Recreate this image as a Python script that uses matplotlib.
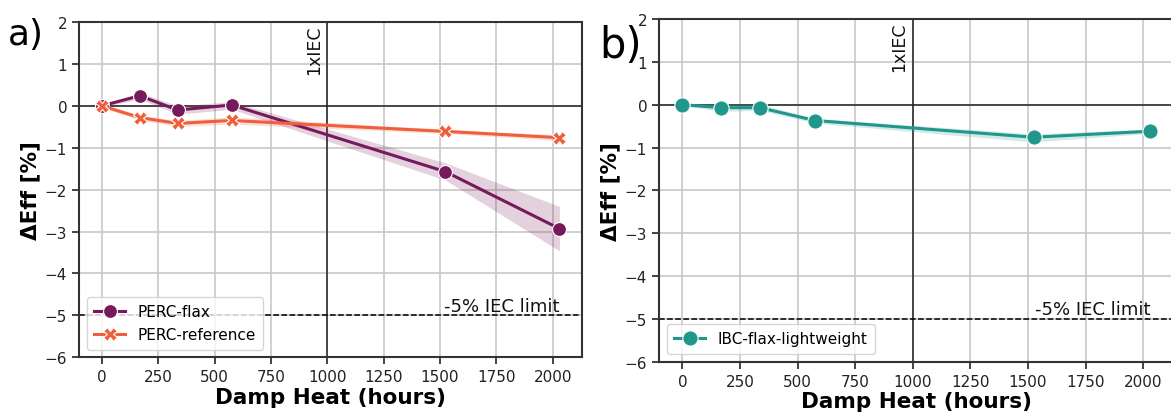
import matplotlib.pyplot as plt
import numpy as np

# damp heat exposure times (hours)
hours = [0, 168, 336, 576, 1524, 2030]

# PERC-flax: mean change in efficiency and spread band
flax_mean = [0.0, 0.24, -0.10, 0.02, -1.57, -2.93]
flax_lo = [-0.03, 0.16, -0.20, -0.08, -1.77, -3.46]
flax_hi = [0.03, 0.31, 0.00, 0.10, -1.36, -2.40]

# PERC-reference
ref_mean = [0.0, -0.28, -0.42, -0.35, -0.61, -0.76]
ref_lo = [-0.04, -0.34, -0.49, -0.44, -0.66, -0.83]
ref_hi = [0.04, -0.22, -0.35, -0.26, -0.56, -0.69]

# IBC-flax-lightweight
ibc_mean = [0.0, -0.07, -0.07, -0.37, -0.76, -0.62]
ibc_lo = [-0.02, -0.16, -0.13, -0.43, -0.87, -0.67]
ibc_hi = [0.02, 0.03, 0.01, -0.32, -0.68, -0.57]

iec_hours = 1000
iec_limit = -5

c_flax = '#761a5c'
c_ref = '#f05f3c'
c_ibc = '#1f978b'

fig = plt.figure(figsize=(11.71, 4.14), dpi=100)
W, H = 1171, 414
ax1 = fig.add_axes([79/W, (H-358.3)/H, (582.3-79)/W, (358.3-23)/H])
ax2 = fig.add_axes([659/W, (H-362.7)/H, (1173.5-659)/W, (362.7-20)/H])


def style(ax):
    ax.set_xlim(-101.5, 2131.5)
    ax.set_ylim(-6, 2)
    ax.set_xticks(np.arange(0, 2001, 250))
    ax.set_yticks(np.arange(-6, 3, 1))
    ax.grid(True, color='#c8c8c8', linewidth=1.2, zorder=0)
    ax.set_axisbelow(True)
    ax.tick_params(labelsize=11, length=5, width=1.2, colors='#222222')
    for s in ax.spines.values():
        s.set_linewidth(1.5)
        s.set_color('#333333')
    ax.axhline(0, color='#222222', lw=1.1, zorder=1)
    ax.axvline(iec_hours, color='#222222', lw=1.1, zorder=1)
    ax.axhline(iec_limit, color='black', lw=1.1, ls='--', zorder=1)
    ax.text(iec_hours - 20, 1.95, '1xIEC', rotation=90, ha='right', va='top',
            fontsize=12.5, color='#111111')
    ax.text(2030, iec_limit + 0.02, '-5% IEC limit', ha='right', va='bottom',
            fontsize=13, color='#111111')
    ax.set_xlabel('Damp Heat (hours)', fontsize=15.5, fontweight='bold', labelpad=2)
    ax.set_ylabel('ΔEff [%]', fontsize=15.5, fontweight='bold', labelpad=3)


style(ax1)
ax1.fill_between(hours, flax_lo, flax_hi, color=c_flax, alpha=0.2, lw=0, zorder=2)
ax1.fill_between(hours, ref_lo, ref_hi, color=c_ref, alpha=0.2, lw=0, zorder=2)
ax1.plot(hours, flax_mean, color=c_flax, lw=2.2, marker='o', ms=10,
         mec='white', mew=0.8, label='PERC-flax', zorder=3)
ax1.plot(hours, ref_mean, color=c_ref, lw=2.2, marker='X', ms=10,
         mec='white', mew=0.8, label='PERC-reference', zorder=3)
ax1.legend(loc='lower left', fontsize=11, framealpha=0.8, borderpad=0.5)

style(ax2)
ax2.fill_between(hours, ibc_lo, ibc_hi, color=c_ibc, alpha=0.2, lw=0, zorder=2)
ax2.plot(hours, ibc_mean, color=c_ibc, lw=2.2, marker='o', ms=11,
         mec='white', mew=0.8, label='IBC-flax-lightweight', zorder=3)
ax2.legend(loc='lower left', fontsize=11, framealpha=0.8, borderpad=0.5)

fig.text(8/W, 1 - 45/H, 'a)', fontsize=26, color='black')
fig.text(599/W, 1 - 58/H, 'b)', fontsize=30, color='black')

fig.savefig('out.png', dpi=100)
